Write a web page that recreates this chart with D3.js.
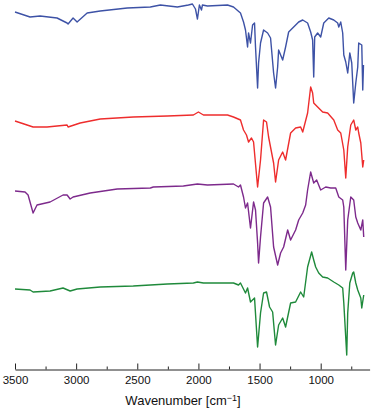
<!DOCTYPE html>
<html>
<head>
<meta charset="utf-8">
<script src="https://cdn.jsdelivr.net/npm/d3@7"></script>
<style>
  html, body { margin: 0; padding: 0; background: #fff; }
  svg { display: block; }
  text { font-family: "Liberation Sans", Arial, Helvetica, sans-serif; fill: #111; }
</style>
</head>
<body>
<svg id="chart" width="373" height="409"></svg>
<script>
// ---- Data (wavenumber in cm^-1, signal in arbitrary stacked units) ----
const blueWn = [3500,3377,3295,3156,3074,3066,3025,2992,2910,2803,2582,2393,2311,2172,2082,2049,2024,2008,1992,1975,1967,1926,1762,1713,1656,1631,1615,1598,1590,1574,1557,1541,1533,1516,1508,1492,1467,1434,1410,1385,1369,1352,1344,1311,1287,1262,1221,1180,1147,1107,1082,1066,1057,1049,1025,1000,975,934,893,861,852,836,820,811,795,779,762,746,730,713,697,689,664,656,650];
const blueVal = [353,348,349,347,342,341,347,343,352,354,357,358,360,358,360,361,356,346,360,355,360,359,360,358,352,343,335,318,332,322,340,342,318,277,302,322,335,332,327,292,277,298,315,305,318,333,338,343,345,342,333,325,288,328,332,328,342,347,345,342,338,343,332,310,303,292,312,302,262,282,298,322,320,275,300];

const redWn = [3500,3352,3238,3074,3066,2967,2803,2533,2254,2041,2000,1959,1762,1713,1656,1631,1607,1590,1566,1549,1516,1492,1467,1443,1426,1385,1369,1344,1311,1287,1246,1205,1164,1147,1107,1082,1066,1057,1025,984,943,893,861,836,811,795,779,754,730,713,697,689,672,656,648];
const redVal = [244,238,238,240,238,242,246,248,249,250,253,250,250,248,245,235,230,223,227,223,178,205,245,243,228,202,183,205,213,205,232,237,238,233,252,278,272,262,258,253,252,245,235,232,215,187,218,240,245,235,238,232,222,198,205];

const purpleWn = [3500,3418,3393,3352,3320,3213,3107,3074,3049,3025,2885,2664,2393,2369,2123,2008,1926,1713,1672,1656,1631,1615,1598,1574,1549,1533,1516,1508,1492,1467,1434,1410,1385,1352,1328,1303,1270,1246,1205,1180,1147,1123,1107,1082,1057,1033,1000,959,918,877,852,820,811,795,779,754,730,713,697,672,656,648];
const purpleVal = [174,173,170,152,160,163,170,170,166,168,172,176,177,178,179,181,180,181,178,180,168,157,162,137,163,155,122,102,128,162,168,158,118,100,112,118,135,125,135,145,152,160,175,193,182,185,175,178,177,177,168,165,158,95,145,168,165,148,142,135,145,128];

const greenWn = [3500,3377,3352,3213,3107,3049,2992,2803,2533,2254,2041,2008,1959,1713,1672,1656,1615,1598,1574,1541,1516,1492,1467,1443,1418,1393,1369,1344,1311,1287,1246,1205,1164,1139,1107,1074,1057,1041,1016,984,943,893,852,820,811,787,779,762,738,730,713,697,672,664,648];
const greenVal = [76,75,73,74,77,74,76,78,79,81,82,83,82,82,80,82,72,77,63,67,18,52,72,73,58,53,20,40,47,38,62,63,73,68,98,113,105,98,92,88,87,83,80,77,62,10,52,82,92,93,82,75,67,57,70];

const seriesNames = ["blue", "red", "purple", "green"];
const seriesColors = ["#3d52a6", "#ee2d2d", "#7d2a8c", "#1f8a3b"];

const majorTicks = [3500, 3000, 2500, 2000, 1500, 1000];
const minorTicks = [3250, 2750, 2250, 1750, 1250, 750];
const xTitle = "Wavenumber [cm";

// ---- Chart ----
const svg = d3.select("#chart");
const axisY = 369.5;

const x = d3.scaleLinear().domain([3500, 600]).range([15, 369.6]);
const y = d3.scaleLinear().domain([0, 365]).range([365, 0]);

const seriesWn = [blueWn, redWn, purpleWn, greenWn];
const seriesVal = [blueVal, redVal, purpleVal, greenVal];

const line = d3.line().x(d => x(d[0])).y(d => y(d[1]));

seriesNames.forEach((name, i) => {
  const pts = seriesWn[i].map((w, j) => [w, seriesVal[i][j]]);
  svg.append("path")
    .attr("class", "trace " + name)
    .attr("d", line(pts))
    .attr("fill", "none")
    .attr("stroke", seriesColors[i])
    .attr("stroke-width", 1.4)
    .attr("stroke-linejoin", "round");
});

// minor ticks
svg.append("g")
  .attr("transform", `translate(0,${axisY})`)
  .call(d3.axisBottom(x).tickValues(minorTicks).tickSize(-3).tickFormat(""))
  .call(g => g.select(".domain").remove())
  .call(g => g.selectAll("line").attr("stroke", "#222"));

// major axis
const ax = svg.append("g")
  .attr("transform", `translate(0,${axisY})`)
  .call(d3.axisBottom(x).tickValues(majorTicks).tickSizeInner(-6).tickSizeOuter(0).tickPadding(6).tickFormat(d3.format("d")));
ax.select(".domain").attr("stroke", "#222");
ax.selectAll("line").attr("stroke", "#222");
ax.selectAll("text")
  .style("font-family", '"Liberation Sans", Arial, sans-serif')
  .style("font-size", "11.5px")
  .attr("fill", "#111");

// axis title
const t = svg.append("text")
  .attr("x", 183)
  .attr("y", 405)
  .attr("text-anchor", "middle")
  .style("font-size", "13px");
t.append("tspan").text(xTitle);
t.append("tspan").attr("dy", -4.5).style("font-size", "9px").text("\u22121");
t.append("tspan").attr("dy", 4.5).text("]");
</script>
</body>
</html>
